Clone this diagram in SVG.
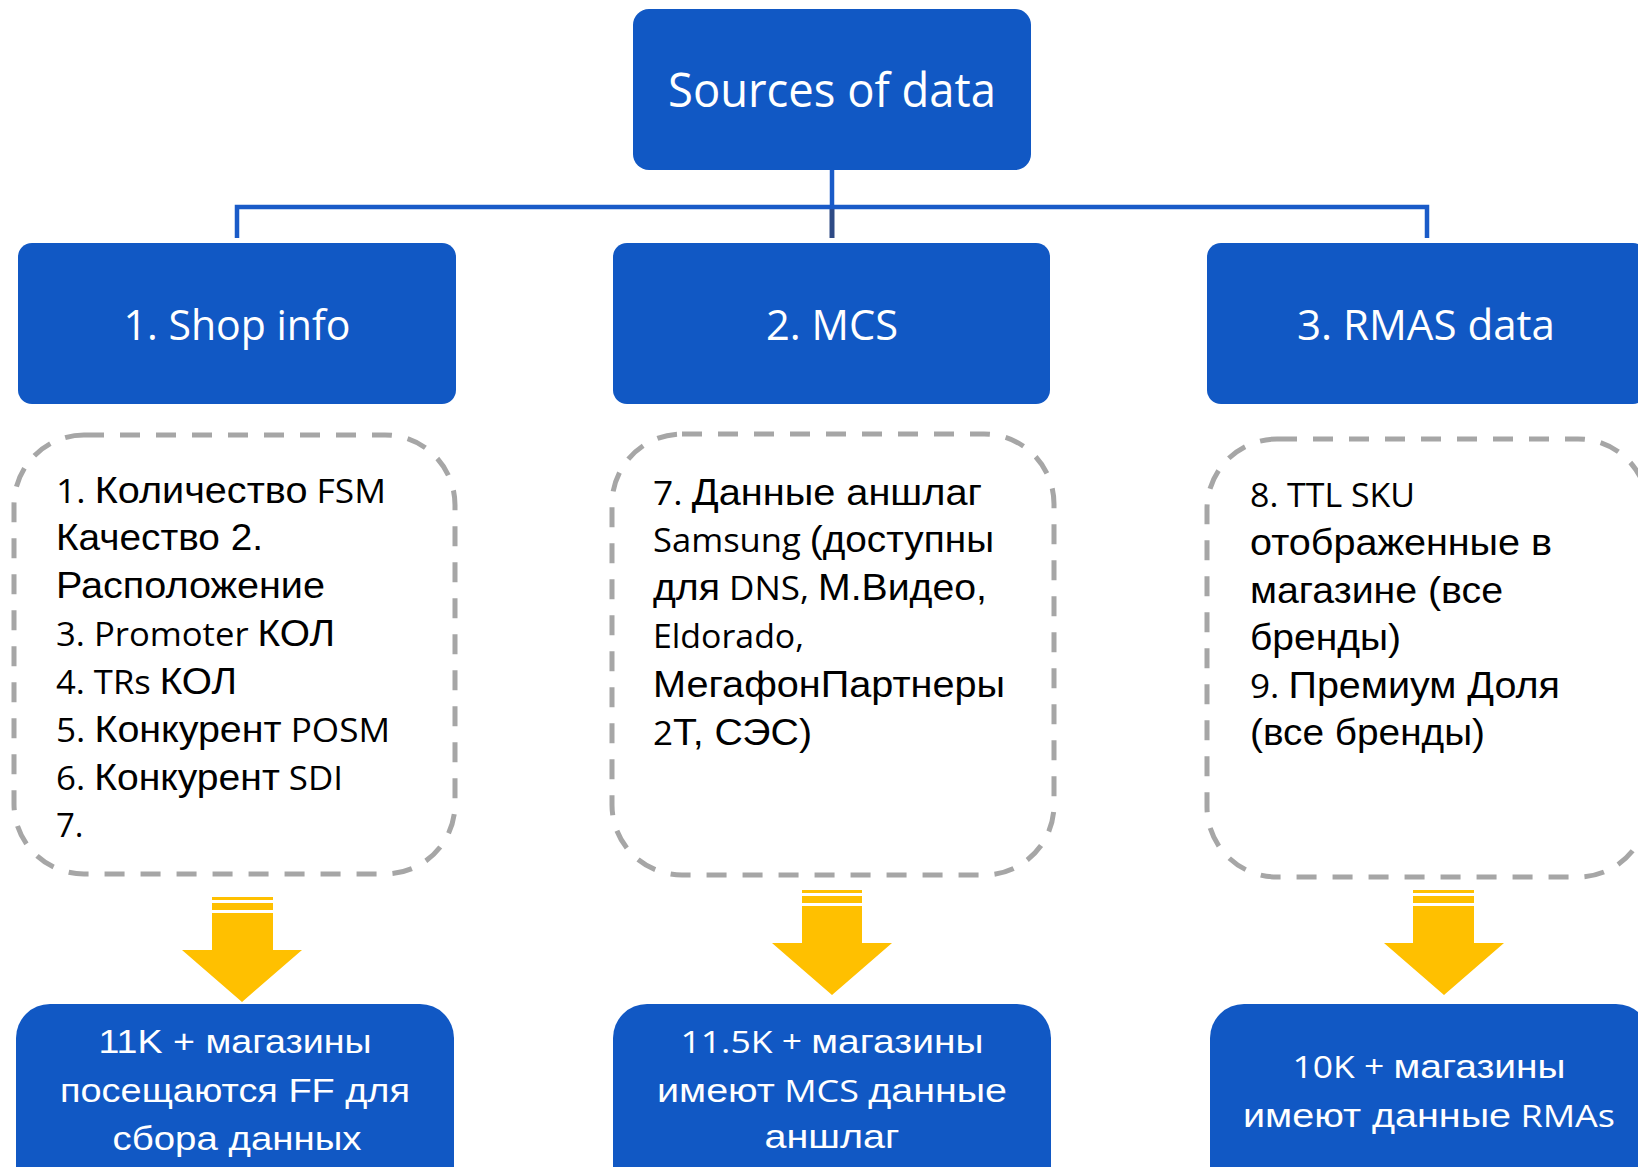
<svg xmlns="http://www.w3.org/2000/svg" width="1638" height="1167" viewBox="0 0 1638 1167">
<style>
.blue{fill:#1158C4;}
.dash{fill:none;stroke:#A6A6A6;stroke-width:5;stroke-dasharray:20 16;}
.hdr{font-family:"Open Sans","Noto Sans",sans-serif;fill:#fff;text-anchor:middle;}
.body{font-family:"Liberation Sans",Arial,sans-serif;font-size:37px;fill:#000;}
.bot{font-family:"Liberation Sans",Arial,sans-serif;font-size:34px;fill:#fff;text-anchor:middle;}
.cal{font-family:"Open Sans","Noto Sans",sans-serif;font-size:33px;}
.calb{font-family:"Open Sans","Noto Sans",sans-serif;font-size:31px;}
.arrow{fill:#FFC000;}
.conn{fill:none;stroke:#1A5BC8;stroke-width:4.5;}
</style>
<rect width="1638" height="1167" fill="#fff"/>
<g id="connectors">
  <line class="conn" x1="832" y1="170" x2="832" y2="207"/>
  <line x1="832" y1="207" x2="832" y2="238" stroke="#2E4A85" stroke-width="5"/>
  <path class="conn" d="M237 238 V207 H1427 V238"/>
</g>
<g id="root">
  <rect class="blue" x="633" y="9" width="398" height="161" rx="16"/>
  <text class="hdr" x="832" y="107" font-size="47" textLength="328" lengthAdjust="spacingAndGlyphs">Sources of data</text>
</g>
<g id="shop-info">
  <rect class="blue" x="18" y="243" width="438" height="161" rx="14"/>
  <text class="hdr" x="237" y="340" font-size="42" textLength="227" lengthAdjust="spacingAndGlyphs">1. Shop info</text>
</g>
<g id="mcs">
  <rect class="blue" x="613" y="243" width="437" height="161" rx="14"/>
  <text class="hdr" x="832" y="340" font-size="42" textLength="132" lengthAdjust="spacingAndGlyphs">2. MCS</text>
</g>
<g id="rmas">
  <rect class="blue" x="1207" y="243" width="440" height="161" rx="14"/>
  <text class="hdr" x="1426" y="340" font-size="42" textLength="258" lengthAdjust="spacingAndGlyphs">3. RMAS data</text>
</g>
<g id="shop-details">
  <rect class="dash" x="14" y="435" width="441" height="439" rx="70"/>
  <text class="body" x="56" y="503" textLength="330" lengthAdjust="spacingAndGlyphs"><tspan class="cal">1. </tspan>Количество<tspan class="cal"> FSM</tspan></text>
  <text class="body" x="56" y="550" textLength="207" lengthAdjust="spacingAndGlyphs">Качество 2.</text>
  <text class="body" x="56" y="598" textLength="269" lengthAdjust="spacingAndGlyphs">Расположение</text>
  <text class="body" x="56" y="646" textLength="279" lengthAdjust="spacingAndGlyphs"><tspan class="cal">3. Promoter </tspan>КОЛ</text>
  <text class="body" x="56" y="694" textLength="181" lengthAdjust="spacingAndGlyphs"><tspan class="cal">4. TRs </tspan>КОЛ</text>
  <text class="body" x="56" y="742" textLength="334" lengthAdjust="spacingAndGlyphs"><tspan class="cal">5. </tspan>Конкурент<tspan class="cal"> POSM</tspan></text>
  <text class="body" x="56" y="790" textLength="287" lengthAdjust="spacingAndGlyphs"><tspan class="cal">6. </tspan>Конкурент<tspan class="cal"> SDI</tspan></text>
  <text class="body" x="56" y="837"><tspan class="cal">7.</tspan></text>
</g>
<g id="mcs-details">
  <rect class="dash" x="612" y="434" width="442" height="441" rx="70"/>
  <text class="body" x="653" y="505" textLength="329" lengthAdjust="spacingAndGlyphs"><tspan class="cal">7. </tspan>Данные аншлаг</text>
  <text class="body" x="653" y="552" textLength="341" lengthAdjust="spacingAndGlyphs"><tspan class="cal">Samsung </tspan>(доступны</text>
  <text class="body" x="653" y="600" textLength="334" lengthAdjust="spacingAndGlyphs">для<tspan class="cal"> DNS, </tspan>М.Видео,</text>
  <text class="body" x="653" y="648" textLength="151" lengthAdjust="spacingAndGlyphs"><tspan class="cal">Eldorado,</tspan></text>
  <text class="body" x="653" y="697" textLength="352" lengthAdjust="spacingAndGlyphs">МегафонПартнеры</text>
  <text class="body" x="653" y="745" textLength="159" lengthAdjust="spacingAndGlyphs"><tspan class="cal">2</tspan>Т, СЭС)</text>
</g>
<g id="rmas-details">
  <rect class="dash" x="1207" y="439" width="441" height="438" rx="70"/>
  <text class="body" x="1250" y="507" textLength="165" lengthAdjust="spacingAndGlyphs"><tspan class="cal">8. TTL SKU</tspan></text>
  <text class="body" x="1250" y="555" textLength="302" lengthAdjust="spacingAndGlyphs">отображенные в</text>
  <text class="body" x="1250" y="603" textLength="253" lengthAdjust="spacingAndGlyphs">магазине (все</text>
  <text class="body" x="1250" y="650" textLength="151" lengthAdjust="spacingAndGlyphs">бренды)</text>
  <text class="body" x="1250" y="698" textLength="310" lengthAdjust="spacingAndGlyphs"><tspan class="cal">9. </tspan>Премиум Доля</text>
  <text class="body" x="1250" y="745" textLength="235" lengthAdjust="spacingAndGlyphs">(все бренды)</text>
</g>
<g id="arrow-1">
  <rect class="arrow" x="212" y="897" width="61" height="3"/>
  <rect class="arrow" x="212" y="903" width="61" height="7"/>
  <polygon class="arrow" points="212,913 273,913 273,950 302,950 242,1002 182,950 212,950"/>
</g>
<g id="arrow-2">
  <rect class="arrow" x="802" y="890" width="60" height="3"/>
  <rect class="arrow" x="802" y="896" width="60" height="7"/>
  <polygon class="arrow" points="802,906 862,906 862,943 892,943 832,995 772,943 802,943"/>
</g>
<g id="arrow-3">
  <rect class="arrow" x="1413" y="890" width="61" height="3"/>
  <rect class="arrow" x="1413" y="896" width="61" height="7"/>
  <polygon class="arrow" points="1413,906 1474,906 1474,943 1504,943 1444,995 1384,943 1413,943"/>
</g>
<g id="result-1">
  <rect class="blue" x="16" y="1004" width="438" height="200" rx="34"/>
  <text class="bot" x="235" y="1053" textLength="273" lengthAdjust="spacingAndGlyphs">11K + магазины</text>
  <text class="bot" x="235" y="1102" textLength="350" lengthAdjust="spacingAndGlyphs">посещаются FF для</text>
  <text class="bot" x="237" y="1150" textLength="249" lengthAdjust="spacingAndGlyphs">сбора данных</text>
</g>
<g id="result-2">
  <rect class="blue" x="613" y="1004" width="438" height="200" rx="34"/>
  <text class="bot" x="832" y="1053" textLength="303" lengthAdjust="spacingAndGlyphs"><tspan class="calb">11.5K + </tspan>магазины</text>
  <text class="bot" x="832" y="1102" textLength="350" lengthAdjust="spacingAndGlyphs">имеют<tspan class="calb"> MCS </tspan>данные</text>
  <text class="bot" x="832" y="1148" textLength="135" lengthAdjust="spacingAndGlyphs">аншлаг</text>
</g>
<g id="result-3">
  <rect class="blue" x="1210" y="1004" width="440" height="200" rx="34"/>
  <text class="bot" x="1429" y="1078" textLength="273" lengthAdjust="spacingAndGlyphs"><tspan class="calb">10K + </tspan>магазины</text>
  <text class="bot" x="1429" y="1127" textLength="372" lengthAdjust="spacingAndGlyphs">имеют данные<tspan class="calb"> RMAs</tspan></text>
</g>
</svg>
